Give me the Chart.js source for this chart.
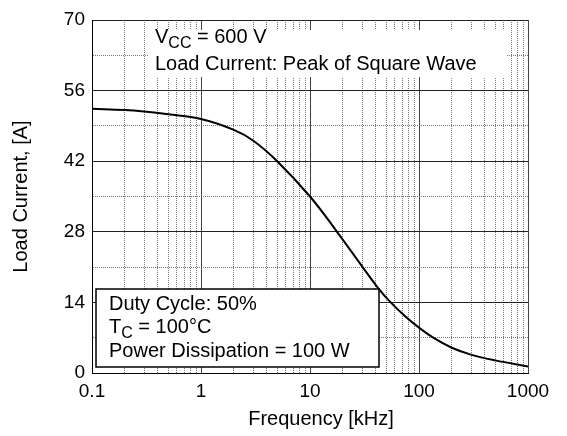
<!DOCTYPE html>
<html>
<head>
<meta charset="utf-8">
<script src="https://cdn.jsdelivr.net/npm/chart.js@4"></script>
<style>
  html, body { margin: 0; padding: 0; background: #fff; }
</style>
</head>
<body>
<canvas id="loadChart" width="567" height="436"></canvas>
<script>
// values
const freqKHz = [0.1, 0.2, 0.3, 0.5, 1, 2, 3, 5, 10, 17.7, 30.4, 42, 55, 75, 100, 135, 200, 294, 500, 1000];
const loadCurrent = [52.4, 52.15, 51.85, 51.3, 50.35, 48.2, 46.1, 42.0, 35.0, 28.0, 21.0, 16.9, 14.0, 11.2, 9.0, 7.0, 5.0, 3.7, 2.5, 1.3];

const decades = [0.1, 1, 10, 100];
const multipliers = [1, 2, 3, 4, 5, 6, 7, 8, 9];
const yLabelStep = 14;
const yGridStep = 7;

const FONT = '"Liberation Sans", Arial, Helvetica, sans-serif';

const isDecade = v => Math.abs(Math.log10(v) - Math.round(Math.log10(v))) < 1e-6;

function richText(ctx, x, y, parts, size) {
  for (const [t, sub] of parts) {
    const s = sub ? Math.round(size * 0.78) : size;
    ctx.font = s + 'px ' + FONT;
    ctx.fillText(t, x, sub ? y + 5 : y);
    x += ctx.measureText(t).width;
  }
}

const notes = {
  id: 'notes',
  beforeDatasetsDraw(chart) {
    const ctx = chart.ctx;
    ctx.save();
    // top label area
    ctx.fillStyle = '#fff';
    ctx.fillRect(148, 30, 358, 47);
    // bottom box
    ctx.fillRect(96, 289, 283, 78);
    ctx.strokeStyle = '#000';
    ctx.lineWidth = 1.5;
    ctx.strokeRect(96, 289, 283, 78);

    ctx.fillStyle = '#000';
    ctx.textBaseline = 'alphabetic';
    ctx.textAlign = 'left';
    richText(ctx, 155, 43, [['V'], ['CC', true], [' = 600 V']], 20);
    richText(ctx, 155, 70, [['Load Current: Peak of Square Wave']], 20);
    richText(ctx, 109, 310, [['Duty Cycle: 50%']], 20);
    richText(ctx, 109, 333, [['T'], ['C', true], [' = 100°C']], 20);
    richText(ctx, 109, 357, [['Power Dissipation = 100 W']], 20);
    ctx.restore();
  },
  afterDraw(chart) {
    const ctx = chart.ctx;
    ctx.save();
    ctx.fillStyle = '#000';
    ctx.font = '20px ' + FONT;
    ctx.textAlign = 'center';
    ctx.textBaseline = 'alphabetic';
    const a = chart.chartArea;
    ctx.fillText('Frequency [kHz]', (a.left + a.right) / 2 + 11, 425);
    ctx.restore();
  }
};

const ctx = document.getElementById('loadChart').getContext('2d');
const loadChart = new Chart(ctx, {
  type: 'scatter',
  data: {
    datasets: [{
      data: freqKHz.map((f, i) => ({ x: f, y: loadCurrent[i] })),
      showLine: true,
      borderColor: '#000',
      borderWidth: 2,
      pointRadius: 0,
      tension: 0.4
    }]
  },
  options: {
    responsive: false,
    animation: false,
    layout: { padding: { top: 20, right: 39, left: 0, bottom: 0 } },
    plugins: {
      legend: { display: false },
      tooltip: { enabled: false }
    },
    scales: {
      x: {
        type: 'logarithmic',
        min: 0.1,
        max: 1000,
        afterBuildTicks: scale => {
          const vals = [];
          decades.forEach(d => multipliers.forEach(m => vals.push(+(d * m).toPrecision(3))));
          vals.push(1000);
          scale.ticks = vals.map(v => ({ value: v }));
        },
        afterFit: scale => { scale.height = 63; },
        ticks: {
          autoSkip: false,
          maxRotation: 0,
          padding: 7,
          color: '#000',
          font: { family: FONT, size: 19 },
          callback: v => isDecade(v) ? String(v) : ''
        },
        grid: {
          drawTicks: false,
          color: c => isDecade(c.tick.value) ? '#444' : '#777',
          lineWidth: 1
        },
        border: {
          color: '#000',
          width: 1,
          dash: c => (c.tick && isDecade(c.tick.value)) ? [] : [1, 1]
        }
      },
      y: {
        min: 0,
        max: 70,
        afterFit: scale => { scale.width = 92; },
        ticks: {
          stepSize: yGridStep,
          autoSkip: false,
          padding: 7,
          color: '#000',
          font: { family: FONT, size: 19 },
          callback: v => v % yLabelStep === 0 ? String(v) : ''
        },
        grid: {
          drawTicks: false,
          color: c => c.tick.value % yLabelStep === 0 ? '#222' : '#777',
          lineWidth: 1
        },
        border: {
          color: '#000',
          width: 1,
          dash: c => (c.tick && c.tick.value % yLabelStep === 0) ? [] : [1, 1]
        },
        title: {
          display: true,
          text: 'Load Current, [A]',
          color: '#000',
          font: { family: FONT, size: 20 },
          padding: { top: 9, bottom: 0 }
        }
      }
    }
  },
  plugins: [notes]
});
</script>
</body>
</html>
